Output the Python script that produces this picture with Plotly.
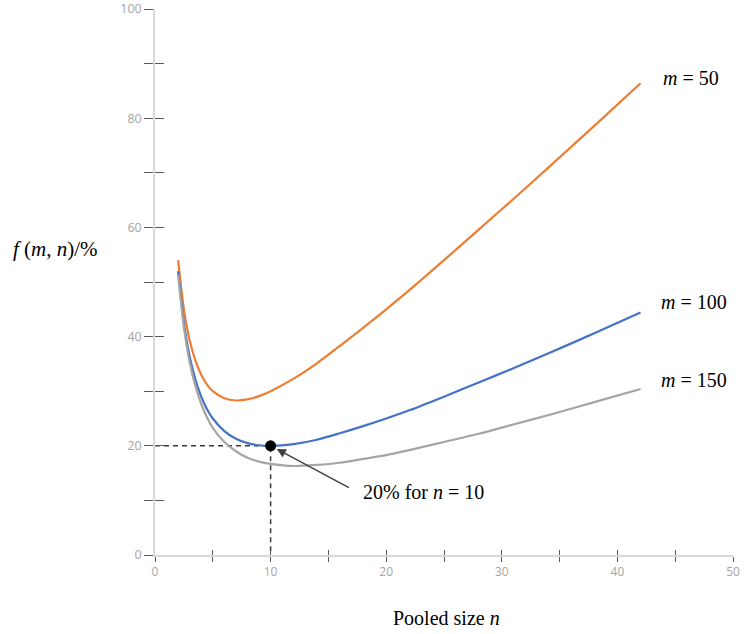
import plotly.graph_objects as go

# Pooled size n
n_vals = [2, 2.5, 3, 3.5, 4, 4.5, 5, 6, 7, 8, 9, 10, 12, 14, 16, 18, 20, 22, 25, 28, 31, 34, 38, 42]
# f(m, n) in %
f_m50 = [54, 45, 39.3, 35.6, 33, 31.2, 30, 28.7, 28.3, 28.5, 29.1, 30, 32.3, 35.1, 38.3, 41.6, 45, 48.5, 54, 59.6, 65.2, 70.9, 78.6, 86.4]
f_m100 = [52, 42.5, 36.3, 32.1, 29, 26.7, 25, 22.7, 21.3, 20.5, 20.1, 20, 20.3, 21.1, 22.3, 23.6, 25, 26.5, 29, 31.6, 34.2, 36.9, 40.6, 44.4]
f_m150 = [51.3, 41.7, 35.3, 30.9, 27.7, 25.2, 23.3, 20.7, 19.0, 17.8, 17.1, 16.7, 16.3, 16.5, 16.9, 17.6, 18.3, 19.2, 20.7, 22.2, 23.9, 25.6, 28.0, 30.4]

series_names = ["m = 50", "m = 100", "m = 150"]
series_labels = ["<i>m</i> = 50", "<i>m</i> = 100", "<i>m</i> = 150"]
colors = ["#ED7D31", "#4472C4", "#A5A5A5"]

highlight_n = 10
highlight_f = 20
highlight_text = "20% for <i>n</i> = 10"

x_tick_vals = [0, 5, 10, 15, 20, 25, 30, 35, 40, 45, 50]
x_tick_text = ["0", "", "10", "", "20", "", "30", "", "40", "", "50"]
y_tick_vals = [0, 10, 20, 30, 40, 50, 60, 70, 80, 90, 100]
y_tick_text = ["0", "", "20", "", "40", "", "60", "", "80", "", "100"]

serif = "Liberation Serif, Times New Roman, serif"

fig = go.Figure()

# dashed guide lines to the highlighted point
fig.add_trace(go.Scatter(
    x=[0, highlight_n, highlight_n], y=[highlight_f, highlight_f, 0],
    mode="lines", line=dict(color="#3a3a3a", width=1.5, dash="5px,4px"),
    hoverinfo="skip", showlegend=False))

for ys, name, col in zip([f_m50, f_m100, f_m150], series_names, colors):
    fig.add_trace(go.Scatter(
        x=n_vals, y=ys, mode="lines", name=name,
        line=dict(color=col, width=2.2, shape="spline", smoothing=0.8),
        showlegend=False))

fig.add_trace(go.Scatter(
    x=[highlight_n], y=[highlight_f], mode="markers",
    marker=dict(color="black", size=11), showlegend=False))

# dummy trace for the inside-tick overlay axes
fig.add_trace(go.Scatter(x=[None], y=[None], xaxis="x2", yaxis="y2",
                         showlegend=False, hoverinfo="skip"))

axis_common = dict(showgrid=False, zeroline=False, automargin=False)

fig.update_layout(
    width=750, height=634,
    margin=dict(l=155, r=17, t=9, b=79),
    paper_bgcolor="white", plot_bgcolor="white",
    xaxis=dict(range=[0, 50], tickvals=x_tick_vals, ticktext=x_tick_text,
               ticks="outside", ticklen=5, tickwidth=1.3, tickcolor="#595959",
               showline=True, linecolor="#d9d9d9", linewidth=1.5,
               ticklabeloverflow="allow",
               tickfont=dict(family="Open Sans", size=12, color="#a6a6a6"),
               **axis_common),
    yaxis=dict(range=[0, 100], tickvals=y_tick_vals, ticktext=y_tick_text,
               ticks="outside", ticklen=9, tickwidth=1.3, tickcolor="#595959",
               showline=True, linecolor="#d9d9d9", linewidth=1.5,
               ticklabeloverflow="allow",
               tickfont=dict(family="Open Sans", size=12.5, color="#a6a6a6"),
               **axis_common),
    xaxis2=dict(overlaying="x", matches="x", range=[0, 50], tickvals=x_tick_vals,
                showticklabels=False, ticks="inside", ticklen=5, tickwidth=1.3,
                tickcolor="#595959", side="bottom", showline=False, **axis_common),
    yaxis2=dict(overlaying="y", matches="y", range=[0, 100], tickvals=y_tick_vals,
                showticklabels=False, ticks="inside", ticklen=9, tickwidth=1.3,
                tickcolor="#595959", side="left", showline=False, **axis_common),
)

annotations = []
label_pos = [(43.8, 87.3), (43.6, 46.4), (43.6, 32.0)]
for (lx, ly), lab in zip(label_pos, series_labels):
    annotations.append(dict(x=lx, y=ly, xref="x", yref="y", text=lab, showarrow=False,
                            xanchor="left", yanchor="middle",
                            font=dict(family=serif, size=20, color="black")))

# arrow to highlighted point
annotations.append(dict(x=highlight_n, y=highlight_f, xref="x", yref="y",
                        ax=16.9, ay=12.2, axref="x", ayref="y", text="",
                        showarrow=True, arrowhead=2, arrowsize=1.3, arrowwidth=1.4,
                        arrowcolor="#404040", standoff=7))
annotations.append(dict(x=17.8, y=11.6, xref="x", yref="y", text=highlight_text,
                        showarrow=False, xanchor="left", yanchor="middle",
                        font=dict(family=serif, size=20, color="black")))

# axis titles
annotations.append(dict(x=-0.25, y=0.56, xref="paper", yref="paper",
                        text="<i>f</i> (<i>m</i>, <i>n</i>)/%", showarrow=False,
                        xanchor="left", yanchor="middle",
                        font=dict(family=serif, size=21, color="black")))
annotations.append(dict(x=0.505, y=-0.115, xref="paper", yref="paper",
                        text="Pooled size <i>n</i>", showarrow=False,
                        xanchor="center", yanchor="middle",
                        font=dict(family=serif, size=20, color="black")))

fig.update_layout(annotations=annotations)

fig.write_html("out.html", config={"displayModeBar": False},
               post_script="document.body.style.margin='0';document.body.style.overflow='hidden';")
